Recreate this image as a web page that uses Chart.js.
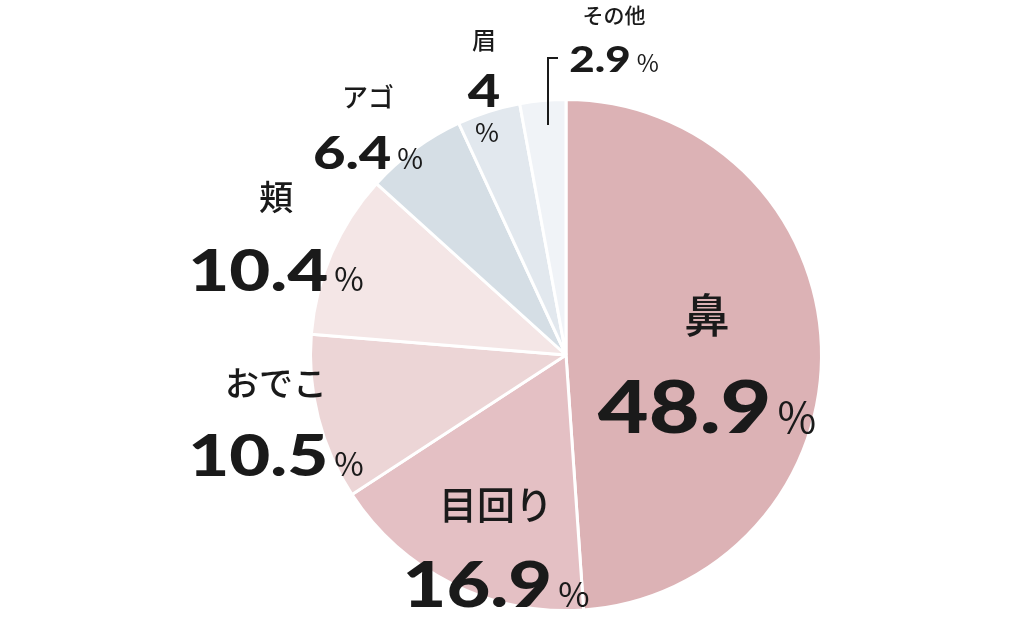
<!DOCTYPE html>
<html>
<head>
<meta charset="utf-8">
<script src="https://cdn.jsdelivr.net/npm/chart.js@4"></script>
<style>
  html, body { margin: 0; padding: 0; background: #fff; }
  #wrap { width: 1024px; height: 629px; }
</style>
</head>
<body>
<div id="wrap"><canvas id="myChart"></canvas></div>
<script>
// data
const labels = ["鼻", "目回り", "おでこ", "頬", "アゴ", "眉", "その他"];
const values = [48.9, 16.9, 10.5, 10.4, 6.4, 4, 2.9];
const colors = ["#dcb2b5", "#e4c0c4", "#ecd5d6", "#f4e6e6", "#d5dee5", "#e2e8ee", "#f0f3f7"];

// label placement (offset from pie centre) and sizes
const labelStyle = [
  { dx: 141, dy: -40, nameSize: 46, numSize: 72, pctSize: 42, gap: 92 },
  { dx: -70, dy: 150, nameSize: 38, numSize: 62, pctSize: 34, gap: 80 },
  { dx: -290, dy: 28, nameSize: 34, numSize: 58, pctSize: 32, gap: 72 },
  { dx: -290, dy: -158, nameSize: 34, numSize: 58, pctSize: 32, gap: 73 },
  { dx: -198, dy: -258, nameSize: 26, numSize: 46, pctSize: 28, gap: 55 },
  { dx: -82, dy: -315, nameSize: 24, numSize: 46, pctSize: 26, gap: 0 },
  { dx: 48, dy: -340, nameSize: 21, numSize: 36, pctSize: 24, gap: 44 }
];

const numFont = "Lato, 'Noto Sans', sans-serif";
const jpFont = "'Noto Sans CJK JP', sans-serif";
const widen = 1.22;

function drawValue(ctx, x, y, num, size, pctSize) {
  ctx.font = "900 " + size + "px " + numFont;
  const w1 = ctx.measureText(num).width * widen;
  ctx.font = "400 " + pctSize + "px " + jpFont;
  const w2 = ctx.measureText("%").width;
  const total = w1 + 6 + w2;
  let sx = x - total / 2;
  ctx.textAlign = "left";
  ctx.textBaseline = "alphabetic";
  ctx.save();
  ctx.translate(sx, y + size * 0.36);
  ctx.scale(widen, 1);
  ctx.font = "900 " + size + "px " + numFont;
  ctx.fillText(num, 0, 0);
  ctx.restore();
  ctx.font = "400 " + pctSize + "px " + jpFont;
  ctx.fillText("%", sx + w1 + 6, y + size * 0.36);
}

const labelPlugin = {
  id: "pieLabels",
  afterDraw(chart) {
    const ctx = chart.ctx;
    const arc = chart.getDatasetMeta(0).data[0];
    const cx = arc.x, cy = arc.y;
    ctx.save();
    ctx.fillStyle = "#1a1a1a";
    labels.forEach((name, i) => {
      const s = labelStyle[i];
      const x = cx + s.dx, y = cy + s.dy;
      ctx.textAlign = "center";
      ctx.textBaseline = "middle";
      ctx.font = "500 " + s.nameSize + "px " + jpFont;
      ctx.fillText(name, x, y);
      if (i === 5) {
        // narrow slice: number and % stacked
        ctx.save();
        ctx.translate(x, y + 52);
        ctx.scale(widen, 1);
        ctx.font = "900 " + s.numSize + "px " + numFont;
        ctx.fillText(String(values[i]), 0, 0);
        ctx.restore();
        ctx.font = "400 " + s.pctSize + "px " + jpFont;
        ctx.fillText("%", x + 3, y + 92);
      } else {
        drawValue(ctx, x, y + s.gap, String(values[i]), s.numSize, s.pctSize);
      }
    });
    // leader line for その他
    ctx.strokeStyle = "#1a1a1a";
    ctx.lineWidth = 2;
    ctx.beginPath();
    ctx.moveTo(cx - 18, cy - 230);
    ctx.lineTo(cx - 18, cy - 297);
    ctx.lineTo(cx - 8, cy - 297);
    ctx.stroke();
    ctx.restore();
  }
};

let myChart = new Chart(document.getElementById("myChart").getContext("2d"), {
  type: "pie",
  data: {
    labels: labels,
    datasets: [{
      data: values,
      backgroundColor: colors,
      borderColor: "#ffffff",
      borderWidth: 3
    }]
  },
  options: {
    responsive: true,
    maintainAspectRatio: false,
    animation: false,
    layout: { padding: { top: 98, bottom: 17, left: 309, right: 201 } },
    plugins: { legend: { display: false }, tooltip: { enabled: false } }
  },
  plugins: [labelPlugin]
});
</script>
</body>
</html>
